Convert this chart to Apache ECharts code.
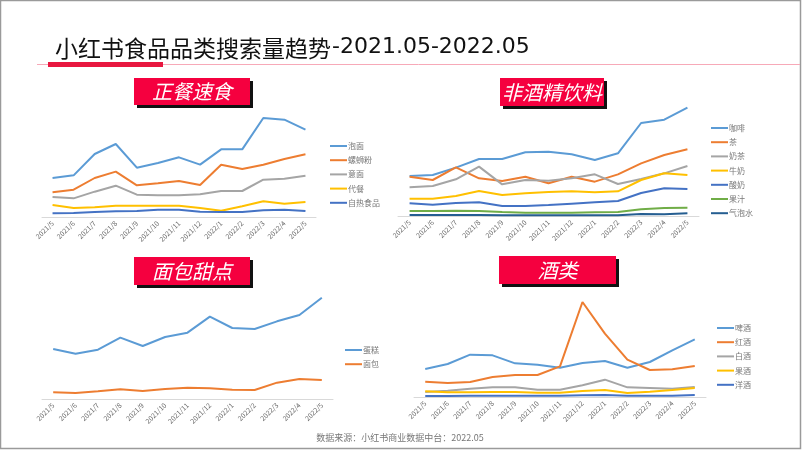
<!DOCTYPE html>
<html><head><meta charset="utf-8">
<script src="https://cdn.jsdelivr.net/npm/echarts@6/dist/echarts.min.js"></script>
<style>html,body{margin:0;padding:0;background:#fff}#c{width:802px;height:451px}</style>
</head><body><div id="c"></div>
<script>
const months = ['2021/5','2021/6','2021/7','2021/8','2021/9','2021/10','2021/11','2021/12','2022/1','2022/2','2022/3','2022/4','2022/5'];

// 正餐速食
const p1Names = ['泡面','螺蛳粉','意面','代餐','自热食品'];
const paomian = [117,125,189,219,148,162,179,157,203,203,297,292,262];
const luosifen = [74,82,117,136,95,101,108,96,157,144,157,174,188];
const yimian = [60,56,76,94,67,65,65,68,78,78,112,115,124];
const daican = [36,27,29,34,34,34,34,27,19,32,47,40,45];
const zire = [11,12,15,17,18,22,22,16,15,15,20,22,18];

// 非酒精饮料
const p2Names = ['咖啡','茶','奶茶','牛奶','酸奶','果汁','气泡水'];
const kafei = [120,123,145,171,171,191,193,185,168,188,279,289,325];
const cha = [118,108,146,113,105,118,98,118,103,125,158,183,200];
const naicha = [86,90,110,148,95,108,106,113,125,96,111,128,150];
const niunai = [52,52,60,75,63,68,72,74,71,74,108,128,123];
const suannai = [38,34,39,41,30,30,33,37,41,45,69,83,81];
const guozhi = [15,15,16,15,12,10,10,10,11,12,20,24,25];
const qipaoshui = [3,3,3,3,2,2,2,2,2,2,6,5,8];

// 面包甜点
const p3Names = ['蛋糕','面包'];
const dangao = [150,136,148,184,159,186,199,247,213,210,233,252,304];
const mianbao = [20,18,23,29,24,30,34,32,28,27,49,60,57];

// 酒类
const p4Names = ['啤酒','红酒','白酒','果酒','洋酒'];
const pijiu = [84,99,127,125,101,97,88,102,108,88,105,140,173];
const hongjiu = [46,42,45,60,66,66,92,285,190,112,81,83,93];
const baijiu = [15,19,25,29,29,22,22,35,52,29,27,25,30];
const guojiu = [17,14,14,15,15,13,13,18,21,12,16,21,27];
const yangjiu = [3,3,4,4,4,4,4,5,6,4,4,4,6];

const panelTitles = ['正餐速食','非酒精饮料','面包甜点','酒类'];
const mainTitleCJK = '小红书食品品类搜索量趋势';
const mainTitleDate = '-2021.05-2022.05';
const footer = '数据来源：小红书商业数据中台：2022.05';

const C = {blue:'#5B9BD5', orange:'#ED7D31', gray:'#A5A5A5', yellow:'#FFC000', dblue:'#4472C4', green:'#70AD47', navy:'#255E91'};
const FONT = '"Noto Sans CJK SC","Noto Sans",sans-serif';

const grids = [
  {left:42, top:107, width:274, height:110, max:330},
  {left:398, top:101, width:301, height:115, max:345},
  {left:42, top:289, width:291, height:110, max:330},
  {left:414, top:292, width:292, height:105, max:315}
];
const legendPos = [
  {left:330, top:141},
  {left:711, top:123},
  {left:345, top:345},
  {left:717, top:323}
];
const panelData = [
  {names:p1Names, data:[paomian,luosifen,yimian,daican,zire], colors:[C.blue,C.orange,C.gray,C.yellow,C.dblue]},
  {names:p2Names, data:[kafei,cha,naicha,niunai,suannai,guozhi,qipaoshui], colors:[C.blue,C.orange,C.gray,C.yellow,C.dblue,C.green,C.navy]},
  {names:p3Names, data:[dangao,mianbao], colors:[C.blue,C.orange]},
  {names:p4Names, data:[pijiu,hongjiu,baijiu,guojiu,yangjiu], colors:[C.blue,C.orange,C.gray,C.yellow,C.dblue]}
];

const option = {
  backgroundColor:'#fff',
  animation:false,
  textStyle:{fontFamily:FONT},
  grid:[], xAxis:[], yAxis:[], series:[], legend:[]
};
grids.forEach((g,i)=>{
  option.grid.push({left:g.left, top:g.top, width:g.width, height:g.height});
  option.xAxis.push({type:'category', gridIndex:i, data:months, boundaryGap:true,
    axisLine:{lineStyle:{color:'#d9d9d9'}}, axisTick:{show:false},
    axisLabel:{rotate:45, interval:0, fontSize:7, color:'#666', margin:5, fontFamily:FONT}});
  option.yAxis.push({type:'value', gridIndex:i, min:0, max:g.max, show:false, splitLine:{show:false}});
  const pd = panelData[i];
  pd.names.forEach((n,k)=>{
    option.series.push({type:'line', name:n, xAxisIndex:i, yAxisIndex:i, data:pd.data[k],
      symbol:'none', color:pd.colors[k], lineStyle:{width:2, color:pd.colors[k]}});
  });
  option.legend.push({data:pd.names.slice(), orient:'vertical', left:legendPos[i].left, top:legendPos[i].top,
    icon:'rect', itemWidth:17, itemHeight:2, itemGap:4.2, padding:0,
    textStyle:{fontSize:8, lineHeight:10, color:'#777', fontFamily:FONT, padding:[0,0,0,-4]}});
});

function titleBox(x,y,w,h,text){
  return [
    {type:'rect', shape:{x:x+3,y:y+3,width:w,height:h}, style:{fill:'#111'}},
    {type:'rect', shape:{x:x,y:y,width:w,height:h}, style:{fill:'#F5003F'}},
    {type:'text', x:x+w/2, y:y+h/2, style:{text:text, fill:'#fff', font:'italic 20px '+FONT, textAlign:'center', textVerticalAlign:'middle'}}
  ];
}

option.graphic = [].concat(
  [{type:'rect', shape:{x:0.5,y:0.5,width:800,height:448}, style:{fill:'none', stroke:'#9a9a9a', lineWidth:1.5}},
   {type:'line', shape:{x1:37,y1:64.5,x2:800,y2:64.5}, style:{stroke:'#F7A9B8', lineWidth:1}},
   {type:'rect', shape:{x:48,y:62,width:115,height:5}, style:{fill:'#E8173F'}},
   {type:'text', x:55, y:48, style:{text:mainTitleCJK, fill:'#111', font:'23px '+FONT, textVerticalAlign:'middle'}},
   {type:'text', x:332, y:47, style:{text:mainTitleDate, fill:'#111', font:'22px "DejaVu Sans",sans-serif', textVerticalAlign:'middle'}},
   {type:'text', x:400, y:438, style:{text:footer, fill:'#777', font:'9px '+FONT, textAlign:'center', textVerticalAlign:'middle'}}],
  titleBox(134,78,116,27,panelTitles[0]),
  titleBox(500,78,104,28,panelTitles[1]),
  titleBox(134,257,116,28,panelTitles[2]),
  titleBox(499,256,117,28,panelTitles[3])
);

const chart = echarts.init(document.getElementById('c'), null, {renderer:'canvas'});
chart.setOption(option);
</script></body></html>
